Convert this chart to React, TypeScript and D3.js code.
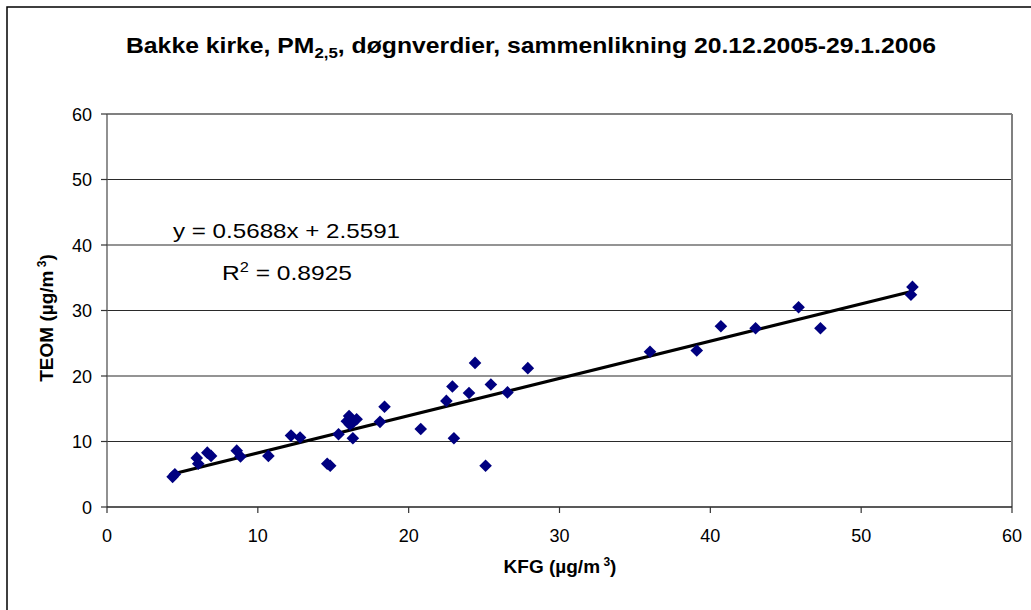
import React from 'react';
import * as d3 from 'd3';

// KFG (x) and TEOM (y) daily values, µg/m3
const kfg = [4.35, 4.5, 5.95, 6.05, 6.65, 6.9, 8.6, 8.85, 10.7, 12.2, 12.8, 14.6, 14.8, 15.35, 15.9, 16.05, 16.1, 16.55, 16.3, 16.3, 18.1, 18.4, 20.8, 22.5, 22.9, 23.0, 24.0, 24.4, 25.1, 25.45, 26.55, 27.9, 36.0, 39.1, 40.7, 43.0, 45.85, 47.3, 53.4, 53.3];
const teom = [4.6, 5.0, 7.5, 6.6, 8.3, 7.8, 8.6, 7.7, 7.8, 10.9, 10.6, 6.6, 6.3, 11.1, 13.1, 13.9, 12.6, 13.4, 12.9, 10.5, 13.0, 15.3, 11.9, 16.2, 18.4, 10.5, 17.4, 22.0, 6.3, 18.7, 17.5, 21.2, 23.7, 23.9, 27.6, 27.3, 30.5, 27.3, 33.6, 32.4];
const xTicks = [0, 10, 20, 30, 40, 50, 60];
const yTicks = [0, 10, 20, 30, 40, 50, 60];
const slope = 0.5688;
const intercept = 2.5591;
const equationLabel = 'y = 0.5688x + 2.5591';
const r2Value = '0.8925';

export default function App() {
  const W = 1031, H = 610;
  const L = 107, R = 1012, T = 114, B = 507;
  const x = d3.scaleLinear().domain([0, 60]).range([L, R]);
  const y = d3.scaleLinear().domain([0, 60]).range([B, T]);
  const xmin = d3.min(kfg) as number;
  const xmax = d3.max(kfg) as number;
  const line = d3.line<number>().x(v => x(v)).y(v => y(slope * v + intercept));
  const font = 'Arial, "Liberation Sans", sans-serif';
  const s = 6.3;
  return (
    <svg width={W} height={H} style={{ position: 'absolute', left: 0, top: 0, background: '#fff' }} fontFamily={font}>
      <rect x={7} y={7} width={W + 20} height={H + 20} fill="#fff" stroke="#000" strokeWidth={1.5} />
      <text x={531} y={53} textAnchor="middle" fontSize={22} fontWeight="bold" textLength={810} lengthAdjust="spacingAndGlyphs">
        Bakke kirke, PM<tspan fontSize={15} dy={5}>2,5</tspan><tspan dy={-5}>, døgnverdier, sammenlikning 20.12.2005-29.1.2006</tspan>
      </text>
      {yTicks.filter(t => t > 0 && t < 60).map(t => (
        <line key={'g' + t} x1={L} x2={R} y1={y(t)} y2={y(t)} stroke="#2a2a2a" strokeWidth={1.2} />
      ))}
      <line x1={L} x2={R} y1={T} y2={T} stroke="#808080" strokeWidth={2} />
      <line x1={R} x2={R} y1={T} y2={B} stroke="#808080" strokeWidth={2} />
      <line x1={L} x2={L} y1={T} y2={B} stroke="#555" strokeWidth={1.3} />
      <line x1={L} x2={R} y1={B} y2={B} stroke="#222" strokeWidth={1.5} />
      {yTicks.map(t => (
        <g key={'y' + t}>
          <line x1={L - 6} x2={L} y1={y(t)} y2={y(t)} stroke="#333" strokeWidth={1.2} />
          <text x={92} y={y(t) + 6.5} textAnchor="end" fontSize={18}>{t}</text>
        </g>
      ))}
      {xTicks.map(t => (
        <g key={'x' + t}>
          <line x1={x(t)} x2={x(t)} y1={B} y2={B + 6} stroke="#333" strokeWidth={1.2} />
          <text x={x(t)} y={542} textAnchor="middle" fontSize={18}>{t}</text>
        </g>
      ))}
      <path d={line([xmin, xmax]) || ''} stroke="#000" strokeWidth={3.2} fill="none" />
      {kfg.map((v, i) => {
        const cx = x(v), cy = y(teom[i]);
        return <path key={i} d={`M${cx},${cy - s}L${cx + s},${cy}L${cx},${cy + s}L${cx - s},${cy}Z`} fill="#000080" />;
      })}
      <text x={173} y={238} fontSize={21} textLength={227} lengthAdjust="spacingAndGlyphs">{equationLabel}</text>
      <text x={222} y={280} fontSize={21} textLength={130} lengthAdjust="spacingAndGlyphs">
        R<tspan fontSize={14} dy={-8}>2</tspan><tspan dy={8}> = {r2Value}</tspan>
      </text>
      <text x={560} y={573} textAnchor="middle" fontSize={19} fontWeight="bold">
        KFG (µg/m<tspan fontSize={12} dy={-7}> 3</tspan><tspan dy={7}>)</tspan>
      </text>
      <text transform={`translate(53,${318}) rotate(-90)`} textAnchor="middle" fontSize={19} fontWeight="bold">
        TEOM (µg/m<tspan fontSize={12} dy={-7}> 3</tspan><tspan dy={7}>)</tspan>
      </text>
    </svg>
  );
}
